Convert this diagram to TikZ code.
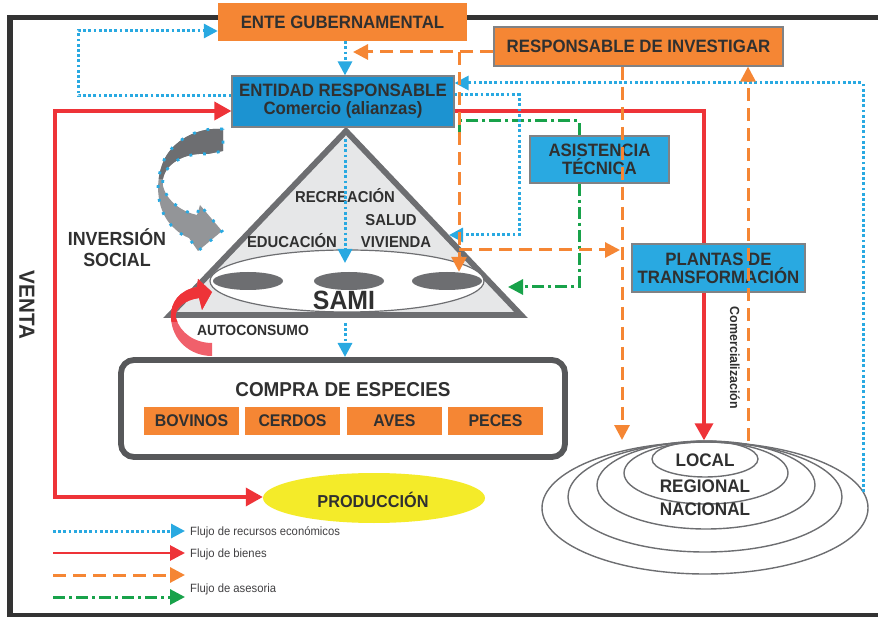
\documentclass[tikz,border=0pt]{standalone}
\usepackage{fontspec}
\setmainfont[FakeStretch=0.94]{Liberation Sans}
\usetikzlibrary{arrows.meta,shapes.geometric}
\definecolor{corange}{HTML}{F58634}
\definecolor{cblueD}{HTML}{1C93D1}
\definecolor{cblueL}{HTML}{29A9E1}
\definecolor{cdot}{HTML}{29A9E1}
\definecolor{cred}{HTML}{EE3338}
\definecolor{cpink}{HTML}{F0606B}
\definecolor{cgreen}{HTML}{18A24A}
\definecolor{cyellow}{HTML}{F4EB29}
\definecolor{cgrayD}{HTML}{6D6E71}
\definecolor{cgrayM}{HTML}{939598}
\definecolor{cgrayL}{HTML}{E6E7E8}
\definecolor{cframe}{HTML}{333333}
\definecolor{ctext}{HTML}{303030}
\definecolor{cbord}{HTML}{808285}
\definecolor{clegt}{HTML}{414042}
\tikzset{
  bx/.style={font=\bfseries\fontsize{17.9}{18}\selectfont, align=center, text=ctext, inner sep=0pt},
  obox/.style={bx, fill=corange},
  bbox/.style={bx, draw=cbord, line width=1.2pt},
  sbox/.style={fill=corange, inner sep=0pt, minimum width=95pt, minimum height=28pt, text=ctext, font=\bfseries\fontsize{16.9}{18}\selectfont},
  lbl/.style={font=\bfseries\fontsize{#1}{#1}\selectfont, text=ctext, anchor=base, inner sep=0pt},
  legtxt/.style={font=\fontsize{12}{12}\selectfont, text=clegt, anchor=base west, inner sep=0pt},
  elp/.style={ellipse, draw=cgrayD, line width=1.4pt, inner sep=0pt},
  dkel/.style={ellipse, fill=cgrayD, inner sep=0pt, minimum width=70pt, minimum height=18pt},
  dotflow/.style={draw=cdot, line width=3pt, dash pattern=on 2.8pt off 2.4pt, -{Triangle[length=14pt,width=14pt]}},
  redflow/.style={draw=cred, line width=3.5pt, -{Triangle[length=17pt,width=18pt]}},
  orflow/.style={draw=corange, line width=3pt, dash pattern=on 13pt off 7pt, -{Triangle[length=15pt,width=15pt]}},
  grflow/.style={draw=cgreen, line width=3pt, dash pattern=on 12pt off 4pt on 3pt off 4pt, -{Triangle[length=15pt,width=15pt]}},
}
\begin{document}
\begin{tikzpicture}[x=1pt,y=-1pt]
\useasboundingbox (0,0) rectangle (878,617);
% frame
\draw[cframe, line width=5.8pt] (880,17.5) -- (10,17.5) -- (10,615.5) -- (880,615.5);

% triangle
\coordinate (apex) at (346,131);
\coordinate (tbl) at (170,315);
\coordinate (tbr) at (521,315);
\draw[draw=cgrayD, fill=cgrayL, line width=5.8pt, line join=miter] (apex) -- (tbr) -- (tbl) -- cycle;
\node[elp, fill=white, line width=1.2pt, minimum width=274pt, minimum height=62pt] (sami) at (347,281) {};
\node[dkel] (s1) at (248,281) {};
\node[dkel] (s2) at (349,281) {};
\node[dkel] (s3) at (447,281) {};
\node[lbl=26.4] (samit) at (344,310) {SAMI};
\node[lbl=15.8] (recre) at (345,203) {RECREACIÓN};
\node[lbl=15.8] (salud) at (391,226) {SALUD};
\node[lbl=15.8] (vivi) at (396,248) {VIVIENDA};
\node[lbl=15.8] (educ) at (292,248) {EDUCACIÓN};
\node[lbl=14.8] (autoc) at (253,336) {AUTOCONSUMO};
\node[lbl=19] (inv1) at (117,246) {INVERSIÓN};
\node[lbl=19] (inv2) at (117,267) {SOCIAL};
\node[lbl=21.9, rotate=-90, anchor=center] (venta) at (27,305) {VENTA};

% gray curved arrow
\path[fill=cgrayM, path picture={\fill[cgrayD] (140,115) rectangle (235,179);},
      draw=cdot, line width=2.8pt, dash pattern=on 2.8pt off 11pt]
  (223,129) .. controls (200,127) and (176,138) .. (165,158)
  .. controls (153,182) and (157,213) .. (174,228)
  .. controls (179,233) and (184,236) .. (189,238)
  -- (198,251) -- (222,231) -- (200,205) -- (197,215)
  .. controls (183,212) and (167,202) .. (163,186)
  .. controls (160,168) and (180,152) .. (208,154)
  -- (223,151) -- cycle;

% red swoosh
\path[fill=cpink, path picture={\fill[cred] (150,265) rectangle (225,322);}]
  (212,343) .. controls (195,343) and (180,333) .. (176,318)
  .. controls (174,308) and (185,300) .. (199,298)
  -- (202,310) -- (212,292) -- (198,279) -- (197,287)
  .. controls (180,290) and (170,302) .. (171,318)
  .. controls (172,340) and (190,356) .. (212,356) -- cycle;

% boxes
\node[obox, minimum width=249pt, minimum height=38pt] (ente) at (342.5,22) {ENTE GUBERNAMENTAL};
\node[obox, draw=cbord, line width=1.2pt, minimum width=289pt, minimum height=39pt] (resp) at (638.5,46.5) {RESPONSABLE DE INVESTIGAR};
\node[bbox, fill=cblueD, minimum width=222pt, minimum height=51pt] (entidad) at (343,101.5) {ENTIDAD RESPONSABLE\\Comercio (alianzas)};
\node[bbox, fill=cblueL, minimum width=139pt, minimum height=47pt] (asist) at (599.5,159.5) {ASISTENCIA\\TÉCNICA};
\node[bbox, fill=cblueL, minimum width=173pt, minimum height=48pt] (plantas) at (718.5,268) {PLANTAS DE\\TRANSFORMACIÓN};

\node[draw=cgrayD!80!black, line width=5.8pt, rounded corners=13pt, minimum width=444pt, minimum height=97pt, inner sep=0pt] (compra) at (343,408.5) {};
\node[lbl=20.1] (ctitle) at (343,396) {COMPRA DE ESPECIES};
\node[sbox] (bov) at (191.5,421) {BOVINOS};
\node[sbox] (cer) at (292.5,421) {CERDOS};
\node[sbox] (ave) at (394.5,421) {AVES};
\node[sbox] (pec) at (495.5,421) {PECES};

\node[ellipse, fill=cyellow, inner sep=0pt, minimum width=222pt, minimum height=50pt] (prod) at (374,498) {};
\node[lbl=17.3] (prodt) at (373,507) {PRODUCCIÓN};

% concentric markets
\node[elp, minimum width=326pt, minimum height=132pt] (n5) at (705,508) {};
\node[elp, minimum width=274pt, minimum height=110pt] (n4) at (705,497) {};
\node[elp, minimum width=218pt, minimum height=88pt] (n3) at (706,485) {};
\node[elp, minimum width=164pt, minimum height=62pt] (n2) at (706,473) {};
\node[elp, minimum width=106pt, minimum height=36pt] (n1) at (705,459) {};
\node[lbl=18.2] (loc) at (705,466) {LOCAL};
\node[lbl=18.2] (reg) at (705,492) {REGIONAL};
\node[lbl=18.2] (nac) at (705,515) {NACIONAL};
\node[font=\bfseries\fontsize{13.2}{13}\selectfont, text=ctext, rotate=-90, inner sep=0pt] (comerc) at (735,358) {Comercialización};

% coordinates
\coordinate (bA) at (78,96);  \coordinate (bB) at (78,31);
\coordinate (xv) at (345,0);
\coordinate (b3s) at (345,139); \coordinate (b3e) at (345,263);
\coordinate (b4s) at (345,323); \coordinate (b4e) at (345,357);
\coordinate (b5a) at (519,95); \coordinate (b5b) at (519,235); \coordinate (b5e) at (449,235);
\coordinate (b6s) at (863,492); \coordinate (b6a) at (863,83);
\coordinate (rA) at (55,497); \coordinate (rB) at (55,111); \coordinate (rC) at (704,111);
\coordinate (oA) at (459,52); \coordinate (oB) at (353,52);
\coordinate (oC) at (459,250); \coordinate (oD) at (620,250);
\coordinate (oE) at (622,440); \coordinate (oG) at (748,441);
\coordinate (gA) at (579,121); \coordinate (gB) at (459,121); \coordinate (gC) at (459,133);
\coordinate (gD) at (579,287); \coordinate (gE) at (508,287);

% green flows
\draw[grflow, -] (gA |- asist.north) -- (gA) -- (gB) -- (gC);
\draw[grflow] (gA |- asist.south) -- (gD) -- (gE);

% red flows
\draw[redflow, {Triangle[length=17pt,width=18pt]}-{Triangle[length=17pt,width=18pt]}] (prod.west |- rA) -- (rA) -- (rB) -- (entidad.west |- rB);
\draw[redflow, -] (entidad.east |- rB) -- (rC) -- (rC |- plantas.north);
\draw[redflow] (rC |- plantas.south) -- (rC |- n1.north);

% blue dotted flows
\draw[dotflow] (entidad.west |- bA) -- (bA) -- (bB) -- (ente.west |- bB);
\draw[dotflow] (xv |- ente.south) -- (xv |- entidad.north);
\draw[dotflow] (b3s) -- (b3e);
\draw[dotflow] (b4s) -- (b4e);
\draw[dotflow] (entidad.east |- b5a) -- (b5a) -- (b5b) -- (b5e);
\draw[dotflow] (b6s) -- (b6a) -- (entidad.east |- b6a);

% orange dashed flows
\draw[orflow] (resp.west |- oA) -- (oB);
\draw[orflow] (oA) -- (oA |- s3.north);
\draw[orflow] (oC) -- (oD);
\draw[orflow] (oE |- resp.south) -- (oE);
\draw[orflow] (oG) -- (oG |- resp.south);

% legend
\coordinate (L1a) at (53,531); \coordinate (L1b) at (185,531);
\coordinate (L2a) at (53,553); \coordinate (L2b) at (185,553);
\coordinate (L3a) at (53,575); \coordinate (L3b) at (185,575);
\coordinate (L4a) at (53,597); \coordinate (L4b) at (185,597);
\draw[dotflow] (L1a) -- (L1b);
\draw[redflow, line width=2.8pt, -{Triangle[length=15pt,width=15pt]}] (L2a) -- (L2b);
\draw[orflow] (L3a) -- (L3b);
\draw[grflow] (L4a) -- (L4b);
\node[legtxt] (lt1) at (190,535) {Flujo de recursos económicos};
\node[legtxt] (lt2) at (190,557) {Flujo de bienes};
\node[legtxt] (lt4) at (190,592) {Flujo de asesoria};
\end{tikzpicture}
\end{document}
